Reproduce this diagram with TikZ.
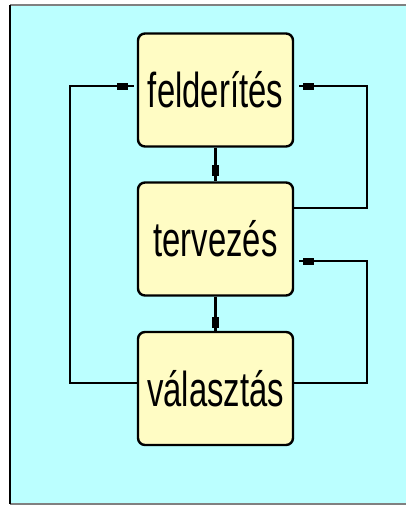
\documentclass[tikz,border=0pt]{standalone}
\usepackage{fontspec}
\newfontfamily\lblfont[FakeStretch=0.67]{Liberation Sans}
\definecolor{bgcyan}{RGB}{187,255,255}
\definecolor{boxyellow}{RGB}{255,252,196}
\definecolor{framegray}{RGB}{128,128,128}
\begin{document}
\begin{tikzpicture}[x=1pt,y=-1pt,
  stagebox/.style={draw=black, line width=2.4pt, fill=boxyellow, rounded corners=7pt,
    minimum width=155pt, minimum height=113pt, inner sep=0pt,
    font=\lblfont\fontsize{49}{55}\selectfont},
  conn/.style={draw=black, line width=2.4pt},
  mk/.style={fill=black, inner sep=0pt, minimum width=11pt, minimum height=7pt, sloped}
]
\useasboundingbox (0,0) rectangle (406,506);
% outer frame
\fill[bgcyan] (10,5) rectangle (420,504);
\draw[framegray, line width=2pt] (10,5) -- (420,5);
\draw[framegray, line width=2pt] (10,504) -- (420,504);
\draw[black, line width=2pt] (10,5) -- (10,504);
% boxes
\node[stagebox] (a) at (215.5,90) {felderítés};
\node[stagebox] (b) at (215.5,239) {tervezés};
\node[stagebox] (c) at (215.5,388.5) {választás};
% coordinates
\coordinate (l1) at (70,383);
\coordinate (l2) at (70,86);
\coordinate (r1) at (367,208);
\coordinate (r2) at (367,86);
\coordinate (r3) at (367,383);
\coordinate (r4) at (367,261);
% vertical connectors
\draw[conn] (a.south) -- node[pos=0.69, mk]{} (b.north);
\draw[conn] (b.south) -- node[pos=0.76, mk]{} (c.north);
% left loop
\draw[conn] (c.west |- l1) -- (l1) -- (l2) -- node[pos=0.82, mk]{} ([xshift=-3pt]a.west |- l2);
% right loops
\draw[conn] (b.east |- r1) -- (r1) -- (r2) -- node[pos=0.86, mk]{} ([xshift=5pt]a.east |- r2);
\draw[conn] (c.east |- r3) -- (r3) -- (r4) -- node[pos=0.86, mk]{} ([xshift=5pt]b.east |- r4);
\end{tikzpicture}
\end{document}
